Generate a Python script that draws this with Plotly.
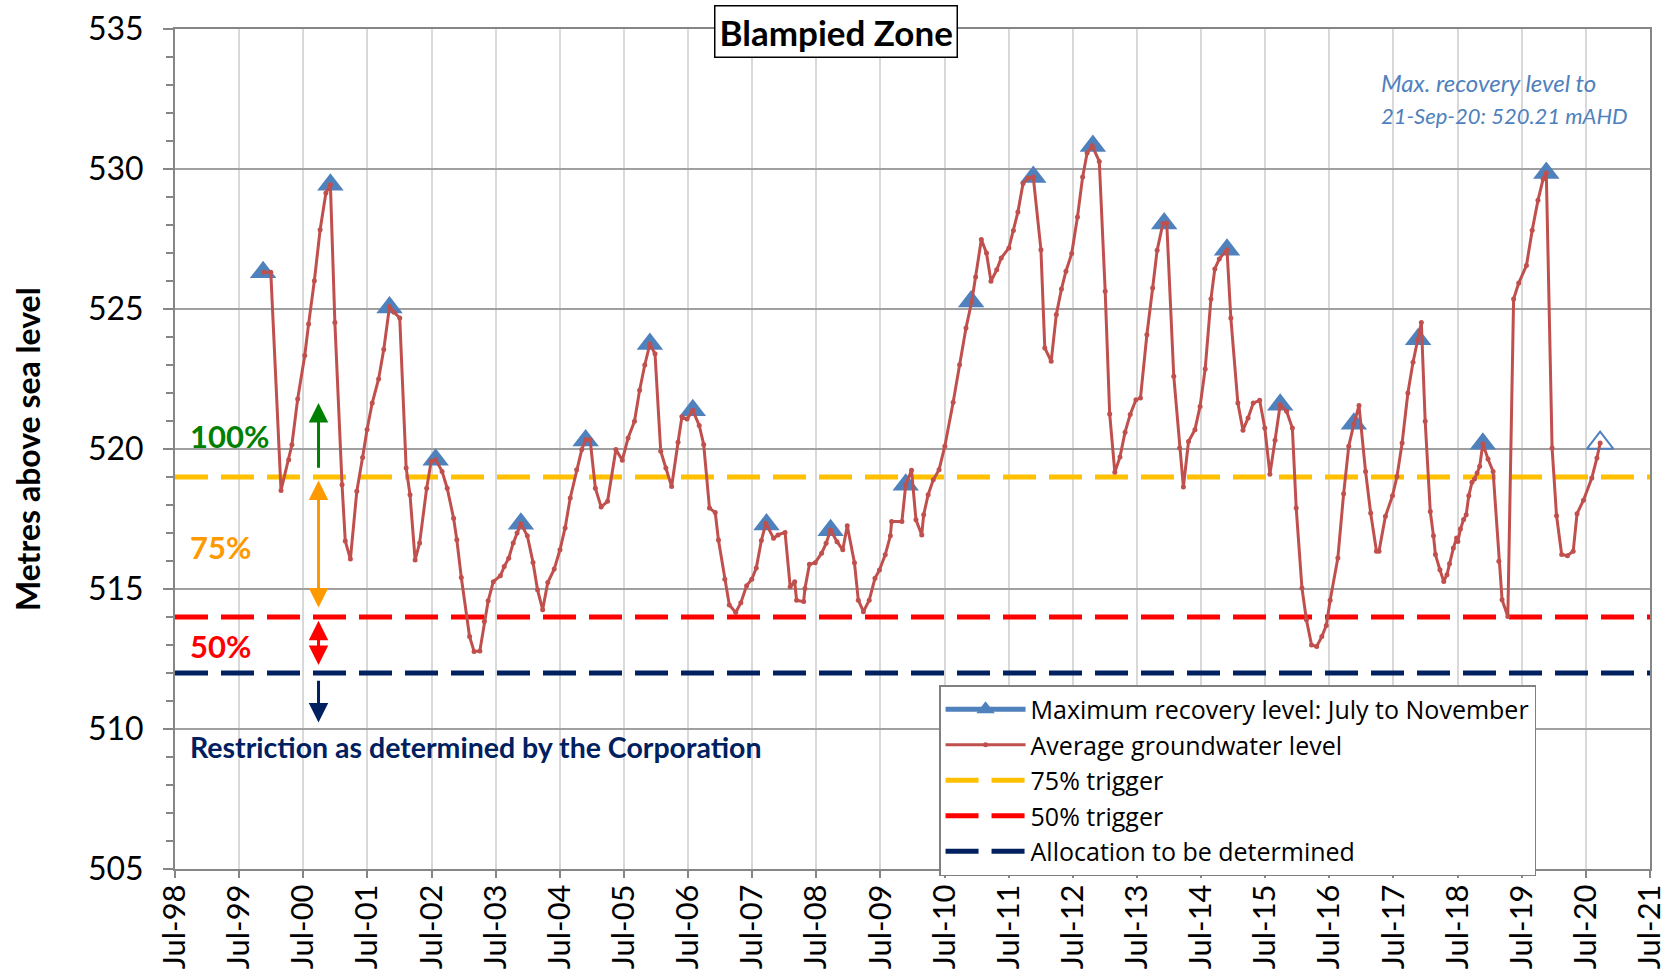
import plotly.graph_objects as go
from datetime import datetime, timedelta

# ---------------- DATA ----------------
# Average groundwater level (decimal year, mAHD)
avg_years = [
    1999.88, 1999.99, 2000.15, 2000.27, 2000.32, 2000.41, 2000.52, 2000.58, 2000.67, 2000.76,
    2000.85, 2000.92, 2000.99, 2001.10, 2001.15, 2001.23, 2001.33, 2001.42, 2001.49, 2001.57,
    2001.67, 2001.75, 2001.84, 2001.91, 2002.00, 2002.10, 2002.16, 2002.24, 2002.31, 2002.42,
    2002.49, 2002.56, 2002.66, 2002.74, 2002.84, 2002.89, 2002.96, 2003.09, 2003.16, 2003.25,
    2003.32, 2003.38, 2003.46, 2003.57, 2003.63, 2003.70, 2003.77, 2003.83, 2003.89, 2003.99,
    2004.08, 2004.15, 2004.23, 2004.31, 2004.41, 2004.50, 2004.58, 2004.66, 2004.76, 2004.84,
    2004.90, 2004.97, 2005.05, 2005.14, 2005.24, 2005.37, 2005.47, 2005.56, 2005.66, 2005.74,
    2005.82, 2005.90, 2005.98, 2006.07, 2006.15, 2006.24, 2006.34, 2006.40, 2006.48, 2006.57,
    2006.67, 2006.74, 2006.83, 2006.92, 2006.97, 2007.07, 2007.14, 2007.24, 2007.32, 2007.41,
    2007.49, 2007.56, 2007.64, 2007.71, 2007.83, 2007.90, 2008.01, 2008.09, 2008.16, 2008.19,
    2008.30, 2008.32, 2008.39, 2008.48, 2008.58, 2008.65, 2008.72, 2008.82, 2008.91, 2008.98,
    2009.09, 2009.15, 2009.23, 2009.32, 2009.41, 2009.48, 2009.57, 2009.65, 2009.67, 2009.83,
    2009.89, 2009.98, 2010.05, 2010.14, 2010.17, 2010.24, 2010.32, 2010.41, 2010.50, 2010.63,
    2010.73, 2010.83, 2010.92, 2010.98, 2011.07, 2011.15, 2011.22, 2011.31, 2011.38, 2011.50,
    2011.57, 2011.64, 2011.72, 2011.80, 2011.88, 2012.00, 2012.06, 2012.16, 2012.24, 2012.32,
    2012.39, 2012.48, 2012.57, 2012.65, 2012.72, 2012.80, 2012.91, 2013.00, 2013.07, 2013.15,
    2013.23, 2013.31, 2013.39, 2013.48, 2013.55, 2013.65, 2013.74, 2013.81, 2013.90, 2013.96,
    2014.07, 2014.16, 2014.22, 2014.30, 2014.40, 2014.48, 2014.56, 2014.65, 2014.71, 2014.78,
    2014.90, 2014.96, 2015.07, 2015.15, 2015.23, 2015.31, 2015.41, 2015.49, 2015.57, 2015.65,
    2015.73, 2015.83, 2015.92, 2015.98, 2016.07, 2016.14, 2016.22, 2016.30, 2016.38, 2016.45,
    2016.51, 2016.63, 2016.72, 2016.80, 2016.88, 2016.96, 2017.06, 2017.14, 2017.23, 2017.27,
    2017.37, 2017.48, 2017.55, 2017.63, 2017.72, 2017.80, 2017.87, 2017.93, 2017.99, 2018.07,
    2018.12, 2018.15, 2018.22, 2018.28, 2018.33, 2018.37, 2018.43, 2018.48, 2018.50, 2018.54,
    2018.59, 2018.63, 2018.67, 2018.72, 2018.76, 2018.80, 2018.84, 2018.89, 2018.97, 2019.05,
    2019.14, 2019.19, 2019.28, 2019.37, 2019.45, 2019.57, 2019.66, 2019.75, 2019.83, 2019.88,
    2019.97, 2020.04, 2020.12, 2020.21, 2020.30, 2020.36, 2020.46, 2020.59, 2020.67, 2020.72,
]
avg_levels = [
    526.31, 526.31, 518.52, 519.62, 520.15, 521.79, 523.34, 524.46, 526.01, 527.83,
    529.14, 529.44, 524.52, 518.72, 516.71, 516.07, 518.49, 519.70, 520.70, 521.64,
    522.50, 523.55, 525.09, 524.88, 524.68, 519.32, 518.37, 516.04, 516.64, 518.60,
    519.56, 519.62, 519.20, 518.60, 517.53, 516.76, 515.41, 513.30, 512.77, 512.79,
    513.84, 514.58, 515.26, 515.47, 515.80, 516.10, 516.64, 517.00, 517.33, 516.90,
    515.95, 514.97, 514.26, 515.23, 515.71, 516.40, 517.18, 518.25, 519.26, 519.98,
    520.33, 520.33, 518.60, 517.93, 518.13, 519.98, 519.60, 520.39, 520.99, 522.10,
    523.00, 523.75, 523.40, 519.92, 519.32, 518.66, 520.24, 521.15, 521.07, 521.38,
    520.84, 520.16, 517.89, 517.73, 516.75, 515.35, 514.43, 514.16, 514.51, 515.12,
    515.35, 515.75, 516.73, 517.35, 516.81, 516.93, 517.02, 515.08, 515.26, 514.60,
    514.55, 515.02, 515.88, 515.94, 516.28, 516.63, 517.11, 516.69, 516.40, 517.26,
    515.94, 514.60, 514.19, 514.60, 515.38, 515.68, 516.22, 516.90, 517.41, 517.41,
    518.72, 519.24, 517.47, 516.93, 517.65, 518.37, 518.90, 519.26, 520.10, 521.67,
    523.01, 524.32, 525.27, 526.14, 527.48, 527.00, 525.99, 526.40, 526.82, 527.18,
    527.80, 528.46, 529.48, 529.68, 529.71, 527.12, 523.61, 523.13, 524.80, 525.71,
    526.35, 526.98, 528.29, 529.71, 530.57, 530.83, 530.27, 525.63, 521.25, 519.17,
    519.71, 520.60, 521.23, 521.76, 521.82, 524.08, 525.75, 527.10, 528.05, 528.07,
    522.60, 520.04, 518.64, 520.27, 520.69, 521.52, 522.86, 525.36, 526.43, 526.79,
    527.12, 524.68, 521.64, 520.67, 521.11, 521.64, 521.74, 520.75, 519.10, 520.31,
    521.58, 521.35, 520.75, 517.89, 515.04, 513.90, 513.00, 512.95, 513.30, 513.70,
    514.60, 516.11, 518.40, 520.10, 520.90, 521.55, 519.20, 517.71, 516.35, 516.35,
    517.60, 518.33, 519.02, 520.21, 522.00, 523.10, 523.90, 524.52, 520.99, 517.77,
    516.90, 516.23, 515.69, 515.27, 515.51, 515.90, 516.46, 516.82, 516.70, 517.14,
    517.48, 517.65, 518.33, 518.81, 518.93, 519.14, 519.38, 520.19, 519.64, 519.20,
    515.99, 514.62, 514.02, 525.36, 525.93, 526.55, 527.81, 528.88, 529.64, 529.86,
    520.04, 517.62, 516.23, 516.19, 516.35, 517.69, 518.17, 518.96, 519.68, 520.21,
]

# Maximum recovery level July to November (decimal year, mAHD)
max_years = [1999.87, 2000.92, 2001.84, 2002.56, 2003.89, 2004.90, 2005.90, 2006.57,
             2007.72, 2008.72, 2009.89, 2010.91, 2011.88, 2012.81, 2013.92, 2014.90,
             2015.73, 2016.88, 2017.88, 2018.89, 2019.88]
max_levels = [526.31, 529.44, 525.05, 519.62, 517.33, 520.30, 523.75, 521.38,
              517.30, 517.10, 518.72, 525.27, 529.71, 530.82, 528.05, 527.12,
              521.58, 520.90, 523.92, 520.19, 529.86]
latest_year = [2020.72]   # 21-Sep-20
latest_level = [520.21]

# Trigger levels (mAHD)
trigger_75 = 519.0
trigger_50 = 514.0
trigger_alloc = 512.0

x_start, x_end = "1998-07-01", "2021-07-01"

series_names = ["Maximum recovery level: July to November", "Average groundwater level",
                "75% trigger", "50% trigger", "Allocation to be determined"]


def to_date(d):
    y = int(d)
    return datetime(y, 1, 1) + timedelta(days=(d - y) * 365.25)


avg_dates = [to_date(v) for v in avg_years]
max_dates = [to_date(v) for v in max_years]
latest_dates = [to_date(v) for v in latest_year]

BLUE = "#4F81BD"
RED = "#C0504D"
YELLOW = "#FFC000"
BRIGHT_RED = "#FF0000"
NAVY = "#002060"
GREEN = "#008000"
ORANGE = "#FF9900"
FONT = "Lato"
LEGEND_FONT = "Open Sans"

fig = go.Figure()

# trigger lines
for val, col, name, rank in [(trigger_75, YELLOW, series_names[2], 3),
                             (trigger_50, BRIGHT_RED, series_names[3], 4),
                             (trigger_alloc, NAVY, series_names[4], 5)]:
    fig.add_trace(go.Scatter(x=[x_start, x_end], y=[val, val], mode="lines",
                             line=dict(color=col, width=5, dash="33px,13px"),
                             name=name, legendrank=rank, hoverinfo="skip"))

# maximum recovery triangles
fig.add_trace(go.Scatter(x=max_dates, y=max_levels, mode="markers",
                         marker=dict(symbol="triangle-up", size=23, color=BLUE),
                         showlegend=False, name=series_names[0]))
fig.add_trace(go.Scatter(x=latest_dates, y=latest_level, mode="markers",
                         marker=dict(symbol="triangle-up-open", size=23, color=BLUE,
                                     line=dict(width=2, color=BLUE)),
                         showlegend=False, name="latest"))
# legend proxy for maximum recovery
fig.add_trace(go.Scatter(x=[None], y=[None], mode="lines+markers",
                         line=dict(color=BLUE, width=5),
                         marker=dict(symbol="triangle-up", size=17, color=BLUE),
                         name=series_names[0], legendrank=1))

# average groundwater level
fig.add_trace(go.Scatter(x=avg_dates, y=avg_levels, mode="lines+markers",
                         line=dict(color=RED, width=3),
                         marker=dict(symbol="circle", size=5, color=RED),
                         name=series_names[1], legendrank=2))

arrow_x = to_date(2000.735)

annotations = [
    # chart title box
    dict(text="<b>Blampied Zone</b>", xref="paper", yref="paper", x=0.448, y=0.9968,
         xanchor="center", yanchor="middle", showarrow=False,
         font=dict(size=35, color="black", family=FONT),
         bgcolor="white", bordercolor="black", borderwidth=1.5, borderpad=4),
    # y axis title
    dict(text="<b>Metres above sea level</b>", xref="paper", yref="paper", x=-0.1003, y=0.5,
         xanchor="center", yanchor="middle", textangle=-90, showarrow=False,
         font=dict(size=32, color="black", family=FONT)),
    # note top right
    dict(text="<i>Max. recovery level to</i>", xref="paper", yref="paper", x=0.816, y=0.936,
         xanchor="left", yanchor="middle", showarrow=False,
         font=dict(size=24, color=BLUE, family=FONT)),
    dict(text="<i>21-Sep-20: 520.21 mAHD</i>", xref="paper", yref="paper", x=0.816, y=0.897,
         xanchor="left", yanchor="middle", showarrow=False,
         font=dict(size=22, color=BLUE, family=FONT)),
    # percentage labels
    dict(text="<b>100%</b>", xref="paper", yref="y", x=0.009, y=520.45, xanchor="left",
         yanchor="middle", showarrow=False, font=dict(size=31, color=GREEN, family=FONT)),
    dict(text="<b>75%</b>", xref="paper", yref="y", x=0.009, y=516.5, xanchor="left",
         yanchor="middle", showarrow=False, font=dict(size=31, color=ORANGE, family=FONT)),
    dict(text="<b>50%</b>", xref="paper", yref="y", x=0.009, y=512.95, xanchor="left",
         yanchor="middle", showarrow=False, font=dict(size=31, color=BRIGHT_RED, family=FONT)),
    dict(text="<b>Restriction as determined by the Corporation</b>", xref="paper", yref="y",
         x=0.009, y=509.37, xanchor="left", yanchor="middle", showarrow=False,
         font=dict(size=28.5, color=NAVY, family=FONT)),
    # arrows
    dict(text="", x=arrow_x, y=521.64, ax=arrow_x, ay=519.28, xref="x", yref="y",
         axref="x", ayref="y", showarrow=True, arrowhead=2, arrowsize=1.3, arrowwidth=3,
         arrowcolor=GREEN, standoff=0),
    dict(text="", x=arrow_x, y=514.34, ax=arrow_x, ay=518.93, xref="x", yref="y",
         axref="x", ayref="y", showarrow=True, arrowhead=2, arrowsize=1.3, arrowwidth=3,
         arrowside="end+start", startarrowhead=2, startarrowsize=1.3,
         arrowcolor=ORANGE, standoff=0, startstandoff=0),
    dict(text="", x=arrow_x, y=512.29, ax=arrow_x, ay=513.92, xref="x", yref="y",
         axref="x", ayref="y", showarrow=True, arrowhead=2, arrowsize=1.3, arrowwidth=3,
         arrowside="end+start", startarrowhead=2, startarrowsize=1.3,
         arrowcolor=BRIGHT_RED, standoff=0, startstandoff=0),
    dict(text="", x=arrow_x, y=510.23, ax=arrow_x, ay=511.78, xref="x", yref="y",
         axref="x", ayref="y", showarrow=True, arrowhead=2, arrowsize=1.3, arrowwidth=3,
         arrowcolor=NAVY, standoff=0),
]

fig.update_layout(
    width=1678, height=977,
    margin=dict(l=175, r=28, t=29, b=108, autoexpand=False),
    plot_bgcolor="white", paper_bgcolor="white",
    font=dict(family=FONT, color="black"),
    annotations=annotations,
    legend=dict(x=0.518, y=0.219, xanchor="left", yanchor="top",
                bgcolor="white", bordercolor="#808080", borderwidth=1.5,
                font=dict(size=25, family=LEGEND_FONT, color="black"),
                itemwidth=80, tracegroupgap=0),
    xaxis=dict(type="date", range=[x_start, x_end], tick0="1998-07-01", dtick="M12",
               tickformat="%b-%y", tickangle=-90, ticks="outside", ticklen=7, tickwidth=1.5,
               tickcolor="#868686", showgrid=True, gridcolor="#D9D9D9", gridwidth=2,
               showline=True, linecolor="#868686", linewidth=2, mirror=True,
               tickfont=dict(size=31, family=FONT, color="black"), ticklabelstandoff=-6,
               zeroline=False, automargin=False),
    yaxis=dict(range=[505, 535], tick0=505, dtick=5, ticks="outside", ticklen=10,
               tickwidth=1.5, tickcolor="#868686", showgrid=True, gridcolor="#A0A0A0",
               gridwidth=1.5, showline=True, linecolor="#868686", linewidth=2, mirror=True,
               minor=dict(dtick=1, ticks="outside", ticklen=7, tickcolor="#868686",
                          tickwidth=1.5, showgrid=False),
               tickfont=dict(size=32, family=FONT, color="black"), ticklabelstandoff=13,
               zeroline=False, automargin=False),
)

fig.write_html("out.html", config={"displayModeBar": False},
               post_script="document.body.style.margin='0';")
